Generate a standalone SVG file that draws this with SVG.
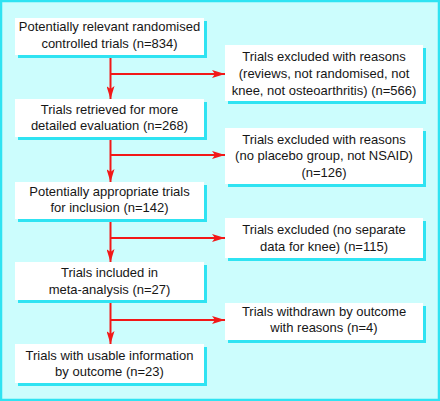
<svg xmlns="http://www.w3.org/2000/svg" width="440" height="401" viewBox="0 0 440 401">
<style>
.box{fill:#ffffff}
.sh{fill:#2fe3f2}
.t{font-family:"Liberation Sans",Arial,sans-serif;font-size:13px;fill:#161616;text-anchor:middle}
.c{stroke:#f21818;stroke-width:2;fill:none}
</style>
<defs>
<marker id="ah" markerUnits="userSpaceOnUse" markerWidth="14" markerHeight="8" refX="13" refY="4" orient="auto" viewBox="0 0 14 8">
<path d="M0,0 L13,4 L0,8 L3,4 z" fill="#f21818"/>
</marker>
</defs>
<rect x="1" y="1" width="438" height="399" fill="#ccfdfd" stroke="#2fe3f2" stroke-width="2.5"/>
<g id="connectors">
<line class="c" x1="110.5" y1="55" x2="110.5" y2="99" marker-end="url(#ah)"/>
<line class="c" x1="110.5" y1="74" x2="225" y2="74" marker-end="url(#ah)"/>
<line class="c" x1="110.5" y1="137" x2="110.5" y2="182" marker-end="url(#ah)"/>
<line class="c" x1="110.5" y1="155" x2="225" y2="155" marker-end="url(#ah)"/>
<line class="c" x1="110.5" y1="219" x2="110.5" y2="262" marker-end="url(#ah)"/>
<line class="c" x1="110.5" y1="238" x2="225" y2="238" marker-end="url(#ah)"/>
<line class="c" x1="110.5" y1="300" x2="110.5" y2="344" marker-end="url(#ah)"/>
<line class="c" x1="110.5" y1="320" x2="225" y2="320" marker-end="url(#ah)"/>
</g>
<g id="n1">
<rect class="sh" x="18" y="21" width="189" height="37"/>
<rect class="box" x="15" y="18" width="189" height="37"/>
<text class="t" x="109.5" y="31">Potentially relevant randomised</text>
<text class="t" x="109.5" y="48">controlled trials (n=834)</text>
</g>
<g id="n2">
<rect class="sh" x="18" y="102" width="189" height="38"/>
<rect class="box" x="15" y="99" width="189" height="38"/>
<text class="t" x="109.5" y="113.5">Trials retrieved for more</text>
<text class="t" x="109.5" y="130">detailed evaluation (n=268)</text>
</g>
<g id="n3">
<rect class="sh" x="18" y="185" width="189" height="37"/>
<rect class="box" x="15" y="182" width="189" height="37"/>
<text class="t" x="109.5" y="195.5">Potentially appropriate trials</text>
<text class="t" x="109.5" y="212">for inclusion (n=142)</text>
</g>
<g id="n4">
<rect class="sh" x="18" y="265" width="189" height="38"/>
<rect class="box" x="15" y="262" width="189" height="38"/>
<text class="t" x="109.5" y="277">Trials included in</text>
<text class="t" x="109.5" y="293.5">meta-analysis (n=27)</text>
</g>
<g id="n5">
<rect class="sh" x="18" y="347" width="189" height="39"/>
<rect class="box" x="15" y="344" width="189" height="39"/>
<text class="t" x="109.5" y="359.5">Trials with usable information</text>
<text class="t" x="109.5" y="376">by outcome (n=23)</text>
</g>
<g id="r1">
<rect class="sh" x="228" y="48" width="198" height="56"/>
<rect class="box" x="225" y="45" width="198" height="56"/>
<text class="t" x="324" y="61">Trials excluded with reasons</text>
<text class="t" x="324" y="78">(reviews, not randomised, not</text>
<text class="t" x="324" y="95">knee, not osteoarthritis) (n=566)</text>
</g>
<g id="r2">
<rect class="sh" x="228" y="131" width="198" height="56"/>
<rect class="box" x="225" y="128" width="198" height="56"/>
<text class="t" x="324" y="143.5">Trials excluded with reasons</text>
<text class="t" x="324" y="160">(no placebo group, not NSAID)</text>
<text class="t" x="324" y="177">(n=126)</text>
</g>
<g id="r3">
<rect class="sh" x="228" y="221" width="198" height="40"/>
<rect class="box" x="225" y="218" width="198" height="40"/>
<text class="t" x="324" y="234">Trials excluded (no separate</text>
<text class="t" x="324" y="251">data for knee) (n=115)</text>
</g>
<g id="r4">
<rect class="sh" x="228" y="306" width="198" height="37"/>
<rect class="box" x="225" y="303" width="198" height="37"/>
<text class="t" x="324" y="315.5">Trials withdrawn by outcome</text>
<text class="t" x="324" y="332">with reasons (n=4)</text>
</g>
</svg>
